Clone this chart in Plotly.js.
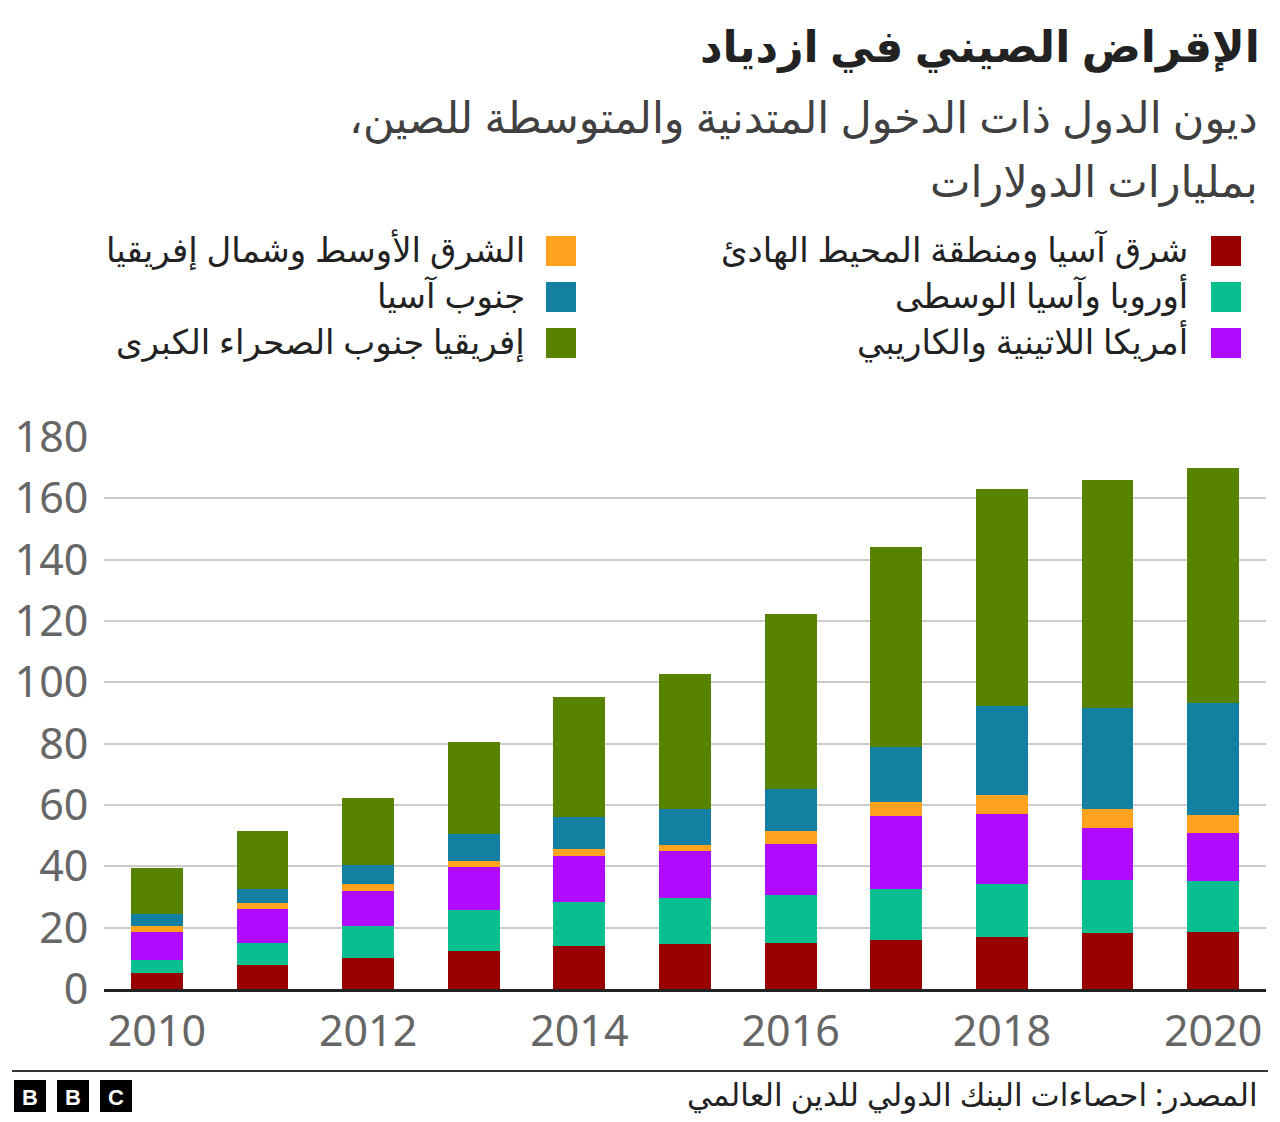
<!DOCTYPE html>
<html>
<head>
<meta charset="utf-8">
<script src="https://cdn.plot.ly/plotly-3.0.1.min.js"></script>
<style>
html,body{margin:0;padding:0;background:#fff;}
#chart{width:1280px;height:1122px;}
</style>
</head>
<body>
<div id="chart"></div>
<script>
// ---- data ----
const years = [2010, 2011, 2012, 2013, 2014, 2015, 2016, 2017, 2018, 2019, 2020];
const eastAsiaPacific   = [5.3, 7.8, 10.2, 12.3, 13.9, 14.6, 14.9, 16.1, 16.9, 18.2, 18.7];
const europeCentralAsia = [4.1, 7.2, 10.2, 13.6, 14.6, 15.2, 15.7, 16.4, 17.4, 17.3, 16.5];
const latinAmerica      = [9.2, 11.1, 11.5, 14.0, 14.8, 15.2, 16.6, 23.9, 22.8, 17.0, 15.8];
const middleEastNAfrica = [1.8, 1.8, 2.2, 2.0, 2.2, 2.1, 4.2, 4.6, 6.3, 6.2, 5.9];
const southAsia         = [3.9, 4.7, 6.2, 8.8, 10.7, 11.6, 13.7, 17.9, 28.8, 32.9, 36.5];
const subSaharanAfrica  = [15.1, 19.0, 22.0, 29.7, 39.1, 44.0, 57.3, 65.3, 70.7, 74.3, 76.6];
const yTicks = [0, 20, 40, 60, 80, 100, 120, 140, 160, 180];
const xTicks = [2010, 2012, 2014, 2016, 2018, 2020];

const seriesNames = [
  'شرق آسيا ومنطقة المحيط الهادئ',
  'أوروبا وآسيا الوسطى',
  'أمريكا اللاتينية والكاريبي',
  'الشرق الأوسط وشمال إفريقيا',
  'جنوب آسيا',
  'إفريقيا جنوب الصحراء الكبرى'
];
const seriesValues = [eastAsiaPacific, europeCentralAsia, latinAmerica, middleEastNAfrica, southAsia, subSaharanAfrica];
const seriesColors = ['#990000', '#0abf8f', '#b00aff', '#ffa31f', '#1380a1', '#588300'];

const titleText = 'الإقراض الصيني في ازدياد';
const subtitle1 = 'ديون الدول ذات الدخول المتدنية والمتوسطة للصين،\u200F';
const subtitle2 = 'بمليارات الدولارات';
const sourceText = 'المصدر: احصاءات البنك الدولي للدين العالمي';

// ---- layout helpers (pixel -> paper) ----
const W = 1280, H = 1122;
const L = 104, R = 1266, T = 437, B = 989;
const px = x => (x - L) / (R - L);
const py = y => (B - y) / (B - T);

const FONT = '"Noto Sans", "DejaVu Sans", sans-serif';

const traces = seriesValues.map((vals, i) => ({
  type: 'bar',
  x: years,
  y: vals,
  name: seriesNames[i],
  marker: {color: seriesColors[i], line: {width: 0}},
  hoverinfo: 'x+y+name'
}));

const annotations = [];
const shapes = [];

annotations.push({xref:'paper', yref:'paper', x: px(1262), y: py(45), xanchor:'right', yanchor:'middle',
  text: '<b>' + titleText + '</b>', showarrow:false, font:{family:FONT, size:44, color:'#222222'}});
annotations.push({xref:'paper', yref:'paper', x: px(1260), y: py(116), xanchor:'right', yanchor:'middle',
  text: subtitle1, showarrow:false, font:{family:FONT, size:43, color:'#404040'}});
annotations.push({xref:'paper', yref:'paper', x: px(1260), y: py(181), xanchor:'right', yanchor:'middle',
  text: subtitle2, showarrow:false, font:{family:FONT, size:43, color:'#404040'}});

// legend (two columns, right to left)
const legendCols = [{sq: 1211, tx: 1190}, {sq: 546, tx: 527}];
const legendRows = [251, 297, 343];
seriesNames.forEach((name, i) => {
  const col = legendCols[Math.floor(i / 3)];
  const rowY = legendRows[i % 3];
  shapes.push({type:'rect', xref:'paper', yref:'paper', x0: px(col.sq), x1: px(col.sq + 30),
    y0: py(rowY - 15), y1: py(rowY + 15), fillcolor: seriesColors[i], line:{width:0}});
  annotations.push({xref:'paper', yref:'paper', x: px(col.tx), y: py(rowY - 2), xanchor:'right', yanchor:'middle',
    text: name, showarrow:false, font:{family:FONT, size:34, color:'#222222'}});
});

// footer
shapes.push({type:'line', xref:'paper', yref:'paper', x0: px(12), x1: px(1268), y0: py(1071), y1: py(1071),
  line:{color:'#333333', width:2}});
const bbcLetters = ['B', 'B', 'C'];
bbcLetters.forEach((ch, i) => {
  const x0 = 14 + i * 43;
  shapes.push({type:'rect', xref:'paper', yref:'paper', x0: px(x0), x1: px(x0 + 32),
    y0: py(1112), y1: py(1080), fillcolor:'#000000', line:{width:0}});
  annotations.push({xref:'paper', yref:'paper', x: px(x0 + 16), y: py(1097), xanchor:'center', yanchor:'middle',
    text: '<b>' + ch + '</b>', showarrow:false, font:{family:'"Liberation Sans", Arial, sans-serif', size:22, color:'#ffffff'}});
});
annotations.push({xref:'paper', yref:'paper', x: px(1260), y: py(1094), xanchor:'right', yanchor:'middle',
  text: sourceText, showarrow:false, font:{family:FONT, size:31, color:'#222222'}});

const layout = {
  width: W, height: H,
  margin: {l: L, r: W - R, t: T, b: H - B, pad: 0},
  paper_bgcolor: '#ffffff', plot_bgcolor: '#ffffff',
  barmode: 'stack',
  bargap: 0.51,
  showlegend: false,
  font: {family: FONT, color: '#222222'},
  xaxis: {
    range: [2009.5, 2020.5],
    tickvals: xTicks,
    ticktext: xTicks.map(String),
    showgrid: false, zeroline: false,
    showline: true, linecolor: '#222222', linewidth: 3,
    ticks: 'outside', ticklen: 2, tickcolor: 'rgba(0,0,0,0)',
    tickfont: {family: FONT, size: 43, color: '#666666'},
    fixedrange: true
  },
  yaxis: {
    range: [0, 180],
    tickvals: yTicks,
    ticktext: yTicks.map(String),
    showgrid: true, gridcolor: '#cccccc', gridwidth: 2,
    zeroline: false, showline: false,
    ticks: 'outside', ticklen: 6, tickcolor: 'rgba(0,0,0,0)',
    tickfont: {family: FONT, size: 43, color: '#666666'},
    fixedrange: true
  },
  annotations: annotations,
  shapes: shapes
};

Plotly.newPlot('chart', traces, layout, {displayModeBar: false, staticPlot: true});
</script>
</body>
</html>
